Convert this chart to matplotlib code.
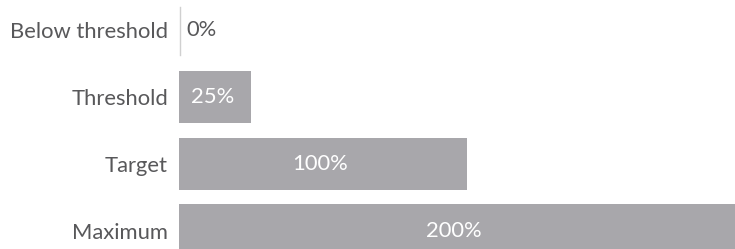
import matplotlib
matplotlib.use("Agg")
import matplotlib.pyplot as plt

categories = ["Below threshold", "Threshold", "Target", "Maximum"]
values = [0, 25, 100, 200]
labels = ["0%", "25%", "100%", "200%"]

bar_color = "#a8a7ab"
text_color = "#58585a"

plt.rcParams['font.family'] = ['Lato', 'DejaVu Sans']

fig = plt.figure(figsize=(7.35, 2.49), dpi=100)
ax = fig.add_axes([179/735, 0, 1 - 179/735, 1])

y = list(range(len(categories)))
ax.barh(y, values, height=0.79, color=bar_color, zorder=2)

xmax = 193
ax.set_xlim(0, xmax)
ax.set_ylim(3.27, -0.45)

fs = 15.8
for yi, v, lab in zip(y, values, labels):
    if v == 0:
        ax.text(2.6, yi, lab, ha="left", va="center", color=text_color, fontsize=fs)
    else:
        ax.text(min(v, xmax) / 2 - 1, yi, lab, ha="center", va="center", color="white", fontsize=fs)

ax.set_yticks(y)
ax.set_yticklabels(categories, fontsize=fs, color=text_color)
ax.tick_params(axis="y", length=0, pad=8)
ax.set_xticks([])
for s in ["top", "right", "bottom", "left"]:
    ax.spines[s].set_visible(False)
ax.axvline(0.5, ymin=1 - 55/249, ymax=1 - 7/249, color="#d0d0d0", lw=1, zorder=1)

fig.savefig("out.png", dpi=100)
